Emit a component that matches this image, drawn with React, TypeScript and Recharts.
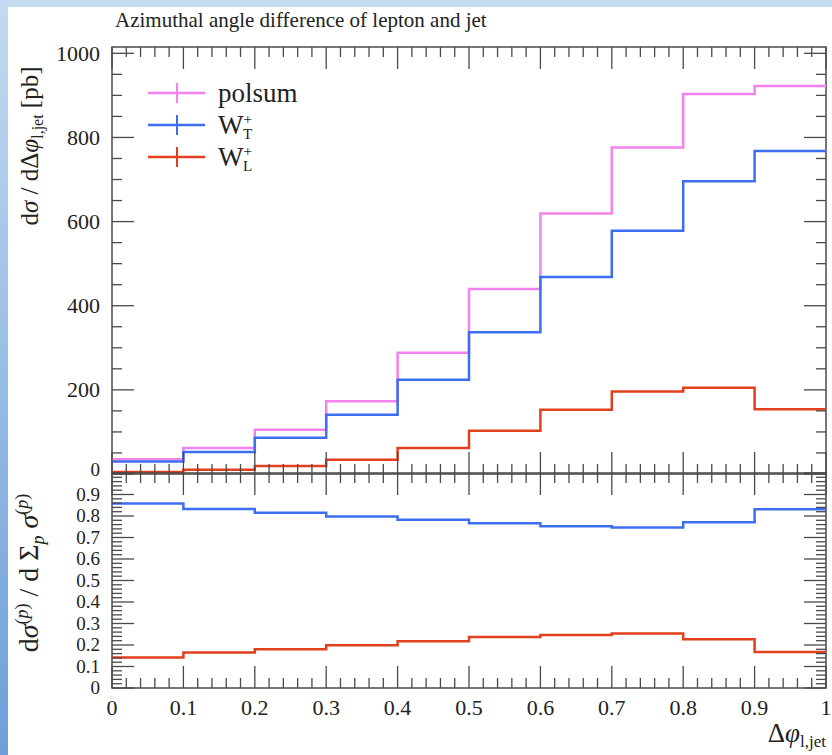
import { LineChart, Line, XAxis, YAxis, ReferenceArea, Legend } from 'recharts'

// bin edges of the histogram (last edge repeats the last bin value for the step line)
const binEdges = [0, 0.1, 0.2, 0.3, 0.4, 0.5, 0.6, 0.7, 0.8, 0.9, 1]
const polsum = [35, 62, 105, 173, 288, 440, 619, 776, 903, 922]
const wT = [30, 52, 86, 141, 224, 337, 468, 578, 696, 768]
const wL = [5, 10, 19, 34, 62, 103, 153, 196, 205, 154]
const ratioT = [0.858, 0.833, 0.815, 0.798, 0.782, 0.766, 0.752, 0.746, 0.771, 0.831]
const ratioL = [0.142, 0.165, 0.18, 0.199, 0.217, 0.237, 0.247, 0.253, 0.227, 0.167]

const xLabels = [0, 0.1, 0.2, 0.3, 0.4, 0.5, 0.6, 0.7, 0.8, 0.9, 1]
const mainYLabels = [0, 200, 400, 600, 800, 1000]
const ratioYLabels = [0, 0.1, 0.2, 0.3, 0.4, 0.5, 0.6, 0.7, 0.8, 0.9]

const PINK = '#f283ee'
const BLUE = '#3d6ef0'
const RED = '#e23f1d'
const TICK = '#4a4a4a'
const FONT = '"Liberation Serif", serif'

const PLOT_L = 112
const PLOT_R = 826
const MAIN_TOP = 47
const MAIN_H = 492
const RATIO_Y0 = 440
const RATIO_TOP = 33
const RATIO_BOT = 248

const steps = (from: number, to: number, step: number) => {
  const out: number[] = []
  const n = Math.round((to - from) / step)
  for (let i = 0; i <= n; i++) out.push(Math.round((from + i * step) * 1e6) / 1e6)
  return out
}
const onGrid = (v: number, step: number) => Math.abs(v / step - Math.round(v / step)) < 1e-6
const fmtX = (v: number) => (v === 0 || v === 1 ? String(v) : v.toFixed(1))

const at = (arr: number[], i: number) => arr[Math.min(i, arr.length - 1)]
const mainData = binEdges.map((x, i) => ({ x, polsum: at(polsum, i), wT: at(wT, i), wL: at(wL, i) }))
const ratioData = binEdges.map((x, i) => ({ x, wT: at(ratioT, i), wL: at(ratioL, i) }))

const xTicks = steps(0, 1, 0.02)
const mainYTicks = steps(0, 1000, 50)
const ratioYTicks = steps(0, 1, 0.02)

const makeXTick = (top: number, withLabels: boolean) => (props: any) => {
  const { x, y, payload } = props
  const v = payload.value
  const major = onGrid(v, 0.1)
  const len = major ? 22 : 10
  const shown = xLabels.some((l) => Math.abs(l - v) < 1e-6)
  return (
    <g>
      <line x1={x} x2={x} y1={y} y2={y - len} stroke={TICK} strokeWidth={1.3} />
      <line x1={x} x2={x} y1={top} y2={top + len} stroke={TICK} strokeWidth={1.3} />
      {withLabels && shown && (
        <text x={x} y={y + 27} textAnchor="middle" fontFamily={FONT} fontSize={22} fill="#222">
          {fmtX(v)}
        </text>
      )}
    </g>
  )
}

const makeYTick = (majorStep: number, labels: number[], fmt: (v: number) => string, size: number) => (props: any) => {
  const { x, y, payload } = props
  const v = payload.value
  const major = onGrid(v, majorStep)
  const len = major ? 22 : 10
  const labelled = labels.some((l) => Math.abs(l - v) < 1e-6)
  // the zero of the main panel sits right above the ratio's 0.9, keep it small
  const fs = size > 20 && v === 0 ? 19 : size
  const dy = size > 20 && v === 0 ? 2 : size * 0.33
  return (
    <g>
      <line x1={x} x2={x + len} y1={y} y2={y} stroke={TICK} strokeWidth={1.3} />
      <line x1={PLOT_R} x2={PLOT_R - len} y1={y} y2={y} stroke={TICK} strokeWidth={1.3} />
      {labelled && (
        <text x={x - 12} y={y + dy} textAnchor="end" fontFamily={FONT} fontSize={fs} fill="#222">
          {fmt(v)}
        </text>
      )}
    </g>
  )
}

const Title = () => (
  <text x={115} y={27} fontFamily={FONT} fontSize={21} fill="#222">
    Azimuthal angle difference of lepton and jet
  </text>
)

const MainYTitle = () => (
  <text transform="rotate(-90)" x={-146} y={38} textAnchor="middle" fontFamily={FONT} fontSize={25} fill="#222">
    d<tspan fontStyle="italic">σ</tspan> / dΔ<tspan fontStyle="italic">φ</tspan>
    <tspan fontSize={16} dy={5}>l,jet</tspan>
    <tspan dy={-5}> [pb]</tspan>
  </text>
)

const RatioYTitle = () => (
  <text transform="rotate(-90)" x={-(573 - RATIO_Y0)} y={38} textAnchor="middle" fontFamily={FONT} fontSize={28} fill="#222">
    d<tspan fontStyle="italic">σ</tspan>
    <tspan fontSize={18} dy={-10}>(</tspan><tspan fontSize={18} fontStyle="italic">p</tspan><tspan fontSize={18}>)</tspan>
    <tspan dy={10}> / d Σ</tspan>
    <tspan fontSize={18} fontStyle="italic" dy={6}>p</tspan>
    <tspan dy={-6} fontStyle="italic"> σ</tspan>
    <tspan fontSize={18} dy={-10}>(</tspan><tspan fontSize={18} fontStyle="italic">p</tspan><tspan fontSize={18}>)</tspan>
  </text>
)

const XTitle = () => (
  <text x={PLOT_R} y={742 - RATIO_Y0} textAnchor="end" fontFamily={FONT} fontSize={27} fill="#222">
    Δ<tspan fontStyle="italic">φ</tspan>
    <tspan fontSize={17} dy={5}>l,jet</tspan>
  </text>
)

const legendRows = [
  { name: 'polsum', sub: '', color: PINK },
  { name: 'W', sub: 'T', color: BLUE },
  { name: 'W', sub: 'L', color: RED },
]

const LegendBox = () => (
  <svg width={220} height={110} style={{ display: 'block' }}>
    {legendRows.map((r, i) => {
      const cy = 15 + i * 32
      return (
        <g key={i}>
          <line x1={8} x2={65} y1={cy} y2={cy} stroke={r.color} strokeWidth={2.5} />
          <line x1={37} x2={37} y1={cy - 10} y2={cy + 10} stroke={r.color} strokeWidth={2} />
          <text x={78} y={cy + 9} fontFamily={FONT} fontSize={27} fill="#222">
            {r.name}
            {r.sub && (
              <>
                <tspan fontSize={15} dy={-10}>+</tspan>
                <tspan fontSize={15} dx={-9} dy={15}>{r.sub}</tspan>
              </>
            )}
          </text>
        </g>
      )
    })}
  </svg>
)

export default function App() {
  return (
    <div style={{ position: 'absolute', left: 0, top: 0, width: 832, height: 755, background: '#fff', overflow: 'hidden' }}>
      <div style={{ position: 'absolute', left: 0, top: 0, width: 832, height: 7, background: '#c6dcf1' }} />
      <div
        style={{
          position: 'absolute',
          left: 0,
          top: 0,
          width: 8,
          height: 755,
          background: 'linear-gradient(to bottom, #c3daf1, #6d9fd8)',
        }}
      />
      <div style={{ position: 'absolute', left: 0, top: 0 }}>
        <LineChart width={832} height={MAIN_H} data={mainData} margin={{ top: MAIN_TOP, right: 832 - PLOT_R, left: PLOT_L - 60, bottom: 0 }}>
          <XAxis
            type="number"
            dataKey="x"
            domain={[0, 1]}
            ticks={xTicks}
            interval={0}
            height={MAIN_H - 474}
            tickSize={0}
            tickMargin={0}
            axisLine={false}
            tickLine={false}
            tick={makeXTick(MAIN_TOP, false)}
            label={<Title />}
          />
          <YAxis
            type="number"
            domain={[0, 1015]}
            ticks={mainYTicks}
            interval={0}
            width={60}
            tickSize={0}
            tickMargin={0}
            axisLine={false}
            tickLine={false}
            tick={makeYTick(200, mainYLabels, (v) => String(v), 22)}
            label={<MainYTitle />}
          />
          <ReferenceArea x1={0} x2={1} y1={0} y2={1015} fill="none" stroke={TICK} strokeWidth={1.5} />
          <Line type="stepAfter" dataKey="polsum" stroke={PINK} strokeWidth={2.5} dot={false} isAnimationActive={false} />
          <Line type="stepAfter" dataKey="wT" stroke={BLUE} strokeWidth={2.5} dot={false} isAnimationActive={false} />
          <Line type="stepAfter" dataKey="wL" stroke={RED} strokeWidth={2.5} dot={false} isAnimationActive={false} />
          <Legend
            layout="vertical"
            align="center"
            verticalAlign="middle"
            content={<LegendBox />}
            wrapperStyle={{ left: 140, top: 78, width: 220, height: 110 }}
          />
        </LineChart>
      </div>
      <div style={{ position: 'absolute', left: 0, top: RATIO_Y0 }}>
        <LineChart width={832} height={755 - RATIO_Y0} data={ratioData} margin={{ top: RATIO_TOP, right: 832 - PLOT_R, left: PLOT_L - 60, bottom: 755 - RATIO_Y0 - RATIO_BOT - 40 }}>
          <XAxis
            type="number"
            dataKey="x"
            domain={[0, 1]}
            ticks={xTicks}
            interval={0}
            height={40}
            tickSize={0}
            tickMargin={0}
            axisLine={false}
            tickLine={false}
            tick={makeXTick(RATIO_TOP, true)}
            label={<XTitle />}
          />
          <YAxis
            type="number"
            domain={[0, 1]}
            ticks={ratioYTicks}
            interval={0}
            width={60}
            tickSize={0}
            tickMargin={0}
            axisLine={false}
            tickLine={false}
            tick={makeYTick(0.1, ratioYLabels, (v) => (v === 0 ? '0' : v.toFixed(1)), 19)}
            label={<RatioYTitle />}
          />
          <ReferenceArea x1={0} x2={1} y1={0} y2={1} fill="none" stroke={TICK} strokeWidth={1.5} />
          <Line type="stepAfter" dataKey="wT" stroke={BLUE} strokeWidth={2.5} dot={false} isAnimationActive={false} />
          <Line type="stepAfter" dataKey="wL" stroke={RED} strokeWidth={2.5} dot={false} isAnimationActive={false} />
        </LineChart>
      </div>
    </div>
  )
}
